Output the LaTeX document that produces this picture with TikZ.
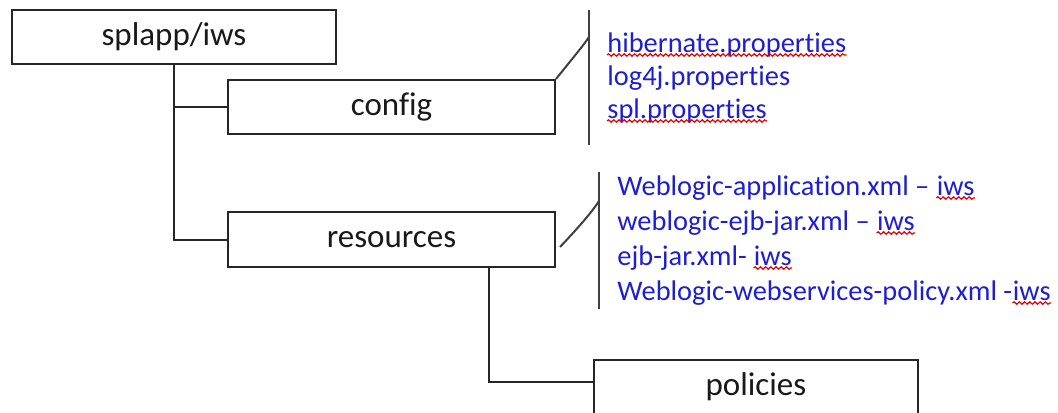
\documentclass[tikz,border=0pt]{standalone}
\usepackage{fontspec}
\setmainfont{Carlito}[Ligatures={TeX,NoCommon}]
\usetikzlibrary{calc,decorations.pathmorphing}
\definecolor{fileblue}{RGB}{30,30,210}
\newlength{\rootwd}
\newlength{\splappwd}
\newlength{\iwswd}

\begin{document}
\begin{tikzpicture}[x=0.5pt, y=-0.5pt,
  dirbox/.style={draw=black!85, line width=1pt, minimum width=163.5pt,
    minimum height=27pt, inner sep=0pt, text=black!90,
    font=\fontsize{16.5}{19}\selectfont},
  filename/.style={anchor=base west, inner sep=0pt, text=fileblue,
    font=\fontsize{14.2}{17}\selectfont},
  tree/.style={draw=black!85, line width=1pt},
  brace/.style={draw=black!75, line width=1pt},
  spell/.style={draw=red!90!black, line width=0.6pt, decorate,
    decoration={snake, amplitude=0.6pt, segment length=2.6pt}}]

  % picture frame
  \useasboundingbox (0,0) rectangle (1058,412);
  \clip (0,0) rectangle (1058,412);

  % directory boxes
  \node[dirbox, minimum width=162pt] (root) at (174,37) {splapp/iws};
  \node[dirbox] (config) at (391.5,107) {config};
  \node[dirbox, minimum height=27.5pt] (resources) at (391.5,239.5) {resources};
  \node[dirbox, minimum width=162pt] (policies) at (756,387) {policies};

  % spelling marks under splapp/iws
  \settowidth{\rootwd}{\fontsize{16.5}{19}\selectfont splapp/iws}
  \settowidth{\splappwd}{\fontsize{16.5}{19}\selectfont splapp}
  \settowidth{\iwswd}{\fontsize{16.5}{19}\selectfont iws}
  \draw[spell] ([xshift=-0.5\rootwd, yshift=-2pt]root.base) -- ++(\splappwd,0);
  \draw[spell] ([xshift=0.5\rootwd, yshift=-2pt]root.base) -- ++(-\iwswd,0);

  % tree lines
  \draw[tree] (root.south) |- (config.west);
  \draw[tree] (root.south) |- (resources.west);
  \draw[tree] (resources.south west) ++(262,0) |- ($(policies.west)+(0,-5)$);

  % bracket for config files
  \coordinate (cfg-top) at (589,10);
  \coordinate (cfg-bot) at (589,145);
  \coordinate (cfg-tip) at (589,37);
  \draw[brace] (cfg-top) -- (cfg-bot);
  \draw[brace] (config.north east) .. controls (572,59) and (583,46) .. (cfg-tip);

  % bracket for resource files
  \coordinate (res-top) at (599,172);
  \coordinate (res-bot) at (599,309);
  \coordinate (res-tip) at (599,201);
  \coordinate (res-in) at (560,247);
  \draw[brace] (res-top) -- (res-bot);
  \draw[brace] (res-in) .. controls (578,228) and (592,212) .. (res-tip);

  % config files
  \foreach \name/\y [count=\i] in {hibernate.properties/52,
      log4j.properties/85, spl.properties/118}
    \node[filename] (cfgfile-\i) at (607,\y) {\name};
  \foreach \i in {1,3}
    \draw[spell] ([yshift=-1.5pt]cfgfile-\i.base west) -- ([yshift=-1.5pt]cfgfile-\i.base east);

  % resource files
  \foreach \name/\y [count=\i] in {{Weblogic-application.xml –\ \mbox{}}/195,
      {weblogic-ejb-jar.xml –\ \mbox{}}/230,
      {ejb-jar.xml-\ \mbox{}}/265,
      {Weblogic-webservices-policy.xml -}/300}
  {
    \node[filename] (resfile-\i) at (617,\y) {\name};
    \node[filename] (resiws-\i) at (resfile-\i.base east) {iws};
    \draw[spell] ([yshift=-1.5pt]resiws-\i.base west) -- ([yshift=-1.5pt]resiws-\i.base east);
  }

\end{tikzpicture}
\end{document}
